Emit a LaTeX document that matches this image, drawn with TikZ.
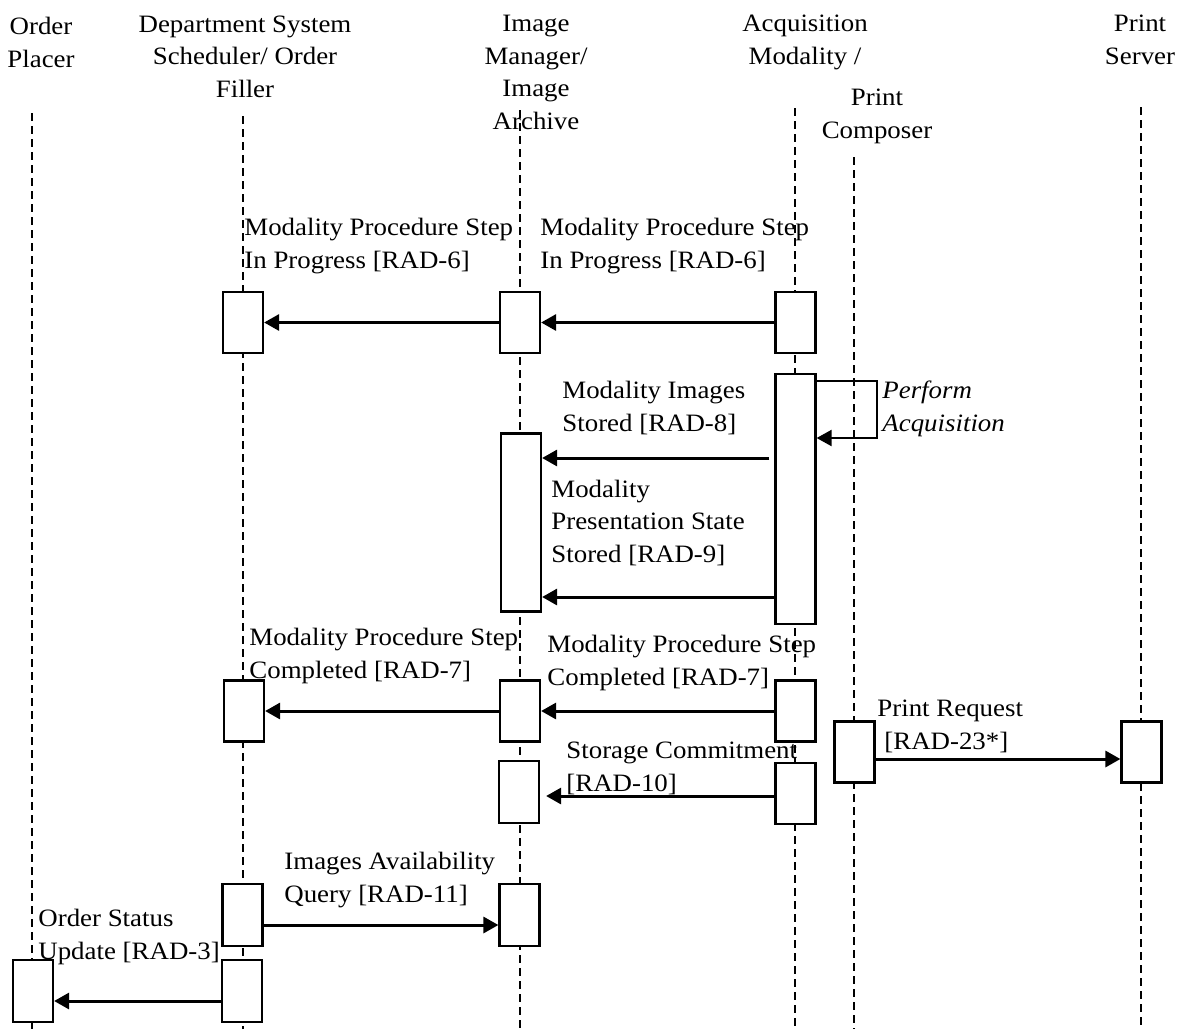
\documentclass[tikz,border=0pt]{standalone}
\usepackage{fontspec}
\setmainfont{Liberation Serif}[FakeStretch=1.075]
\usepackage{tikz}
\usetikzlibrary{arrows.meta}

\tikzset{
  lifeline/.style={dash pattern=on 4pt off 2.5pt, line width=0.75pt},
  actbox/.style={draw, fill=white, line width=1.1pt, minimum width=20pt, minimum height=30.5pt, inner sep=0pt},
  msg/.style={line width=1.5pt, -{Triangle[length=7.5pt, width=8pt]}},
  selfmsg/.style={line width=1.1pt, -{Triangle[length=7.5pt, width=8pt]}},
  head/.style={anchor=base, align=center, inner sep=0pt, font=\fontsize{12.5}{16.25}\selectfont},
  msglabel/.style={anchor=base west, align=left, inner sep=0pt, font=\fontsize{12.5}{16.25}\selectfont}
}

\begin{document}
\begin{tikzpicture}[x=0.5pt, y=-0.5pt]
            \useasboundingbox (0,0) rectangle (1186,1029);

            % Actors (anchored at the baseline of their last line)
            \node[head] (placer) at (41,67) {Order\\Placer};
            \node[head] (filler) at (245,97) {Department System\\Scheduler/ Order\\Filler};
            \node[head] (archive) at (536,129) {Image\\Manager/\\Image\\Archive};
            \node[head] (modality) at (805,64) {Acquisition\\Modality /};
            \node[head] (composer) at (877,138) {Print\\Composer};
            \node[head] (server) at (1140,64) {Print\\Server};

            % Lifelines
            \draw[lifeline] (32,113) -- (32,1029);
            \draw[lifeline] (243,116) -- (243,1029);
            \draw[lifeline] (520,110) -- (520,1029);
            \draw[lifeline] (795,108) -- (795,1029);
            \draw[lifeline] (854,157) -- (854,1029);
            \draw[lifeline] (1141,107) -- (1141,1029);

            % In Progress
            \node[actbox] (fillerA) at (243,322.5) {};
            \node[actbox] (archiveA) at (520,322.5) {};
            \node[actbox] (modalityA) at (795.5,322.5) {};
            \draw[msg] (modalityA.west) -- (archiveA.east);
            \draw[msg] (archiveA.west) -- (fillerA.east);
            \node[msglabel] (inprogA) at (244,268) {Modality Procedure Step\\In Progress [RAD-6]};
            \node[msglabel] (inprogB) at (540,268) {Modality Procedure Step\\In Progress [RAD-6]};

            % Acquisition and storage
            \node[actbox, minimum height=125pt] (modalityB) at (795.5,499) {};
            \node[actbox, minimum height=89pt] (archiveB) at (521,522.5) {};
            \coordinate (loopend) at (877,438);
            \draw[selfmsg] (modalityB.east |- 0,381) -| (loopend) -- (modalityB.east |- loopend);
            \node[msglabel, font=\fontsize{12.5}{16.25}\selectfont\itshape] (acq) at (882,431) {Perform\\Acquisition};
            \draw[msg] ([xshift=-2.5pt]modalityB.west |- 0,458) -- (archiveB.east |- 0,458);
            \node[msglabel] (stored) at (562,431) {Modality Images\\Stored [RAD-8]};
            \draw[msg] (modalityB.west |- 0,597) -- (archiveB.east |- 0,597);
            \node[msglabel] (pstate) at (551,562) {Modality\\Presentation State\\Stored [RAD-9]};

            % Completed
            \node[actbox] (fillerC) at (244,711) {};
            \node[actbox] (archiveC) at (520,711) {};
            \node[actbox] (modalityC) at (795.5,711) {};
            \draw[msg] (modalityC.west) -- (archiveC.east);
            \draw[msg] (archiveC.west) -- (fillerC.east);
            \node[msglabel] (complA) at (249,678) {Modality Procedure Step\\Completed [RAD-7]};
            \node[msglabel] (complB) at (547,685) {Modality Procedure Step\\Completed [RAD-7]};

            % Print
            \node[actbox] (composerA) at (854.5,752) {};
            \node[actbox] (serverA) at (1141.5,752) {};
            \draw[msg] (composerA.east |- 0,759) -- (serverA.west |- 0,759);
            \node[msglabel] (print) at (877,749) {Print Request\\\hspace*{3.5pt}[RAD-23*]};

            % Storage Commitment
            \node[actbox, minimum height=31pt] (archiveD) at (519,792) {};
            \node[actbox] (modalityD) at (795.5,793.5) {};
            \draw[msg] (modalityD.west |- 0,796) -- ([xshift=3pt]archiveD.east |- 0,796);
            \node[msglabel] (commit) at (566,791) {Storage Commitment\\{}[RAD-10]};

            % Availability Query
            \node[actbox, minimum height=31pt] (fillerE) at (242.5,915) {};
            \node[actbox, minimum height=31pt] (archiveE) at (519.5,915) {};
            \draw[msg] (fillerE.east |- 0,925) -- (archiveE.west |- 0,925);
            \node[msglabel] (query) at (284,902) {Images Availability\\Query [RAD-11]};

            % Order Status
            \node[actbox, minimum height=31pt] (placerF) at (33,991) {};
            \node[actbox, minimum height=31pt] (fillerF) at (242,991) {};
            \draw[msg] (fillerF.west |- 0,1001) -- (placerF.east |- 0,1001);
            \node[msglabel] (status) at (38,959) {Order Status\\Update [RAD-3]};
        \end{tikzpicture}
\end{document}
